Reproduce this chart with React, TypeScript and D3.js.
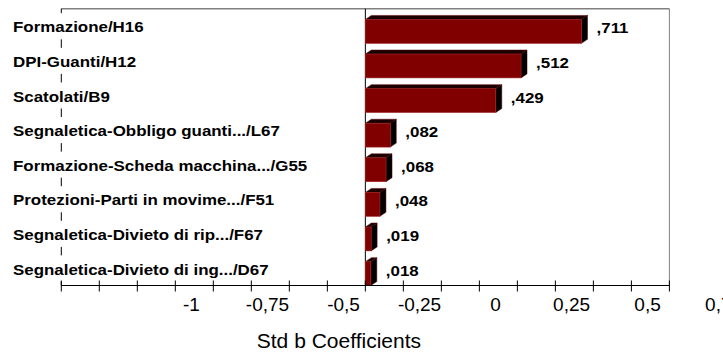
import React from "react";
import * as d3 from "d3";

// Standardized regression coefficients per predictor
const categories = [
  "Formazione/H16",
  "DPI-Guanti/H12",
  "Scatolati/B9",
  "Segnaletica-Obbligo guanti.../L67",
  "Formazione-Scheda macchina.../G55",
  "Protezioni-Parti in movime.../F51",
  "Segnaletica-Divieto di rip.../F67",
  "Segnaletica-Divieto di ing.../D67",
];
const coefficients = [0.711, 0.512, 0.429, 0.082, 0.068, 0.048, 0.019, 0.018];

// Axis tick values (every 0.125) and the printed tick labels
const tickValues = d3.range(-1, 1.0001, 0.125);
const tickLabelValues = [-1, -0.75, -0.5, -0.25, 0, 0.25, 0.5, 0.75];
const tickLabels = ["-1", "-0,75", "-0,5", "-0,25", "0", "0,25", "0,5", "0,75"];
const axisTitle = "Std b Coefficients";

const W = 723;
const H = 356;

const formatValue = (v: number) => d3.format(".3f")(v).replace(/^0\./, ",");

export default function App() {
  const left = 61.3;
  const right = 669.4;
  const top = 8.7;
  const bottom = 285.5;

  const x = d3.scaleLinear().domain([-1, 1]).range([left, right]);
  const y = d3.scaleBand<string>().domain(categories).range([top, bottom]);
  const band = y.bandwidth();
  const barH = band * 0.69;
  const dx = 6;
  const dy = 4;
  // printed tick labels sit offset from their tick marks
  const labelShift = 130.2;
  // bold labels use a widened face
  const stretch = 1.21;

  const boundaries = d3.range(categories.length + 1).map((i) => top + i * band);

  const bold = { fontFamily: "Liberation Sans, Arial, sans-serif", fontWeight: 700 };

  return (
    <svg
      width={W}
      height={H}
      style={{ position: "absolute", left: 0, top: 0, background: "#fff" }}
    >
      <rect width={W} height={H} fill="#fff" />
      {/* frame top and right */}
      <line x1={left} x2={right} y1={top} y2={top} stroke="#808080" strokeWidth={1.5} />
      <line x1={right} x2={right} y1={top} y2={bottom} stroke="#808080" strokeWidth={1} />

      {/* zero reference line */}
      <line x1={x(0)} x2={x(0)} y1={top} y2={bottom} stroke="#000" strokeWidth={1} />

      {/* category axis, visible between labels */}
      {boundaries.map((b, i) => (
        <line
          key={i}
          x1={left}
          x2={left}
          y1={Math.max(top, b - 4)}
          y2={Math.min(bottom, b + 4.5)}
          stroke="#000"
          strokeWidth={1}
        />
      ))}

      {/* bars with 3D faces */}
      {categories.map((c, i) => {
        const v = coefficients[i];
        const x0 = x(0);
        const x1 = x(v);
        const yb = (y(c) as number) + band;
        const yt = yb - barH;
        const topFace = `M${x0},${yt}L${x0 + dx},${yt - dy}L${x1 + dx},${yt - dy}L${x1},${yt}Z`;
        const sideFace = `M${x1},${yt}L${x1 + dx},${yt - dy}L${x1 + dx},${yb - dy}L${x1},${yb}Z`;
        return (
          <g key={c}>
            <path d={topFace} fill="#1a0000" stroke="#5a0000" strokeWidth={0.5} />
            <path d={sideFace} fill="#000" stroke="#5a0000" strokeWidth={0.5} />
            <rect
              x={x0}
              y={yt}
              width={x1 - x0}
              height={barH}
              fill="#800000"
              stroke="#a02424"
              strokeWidth={0.6}
            />
            <text
              transform={`translate(${x1 + dx + 9},${(y(c) as number) + band / 2 + 2.5}) scale(${stretch},1)`}
              dominantBaseline="central"
              fontSize={14}
              style={bold}
              fill="#000"
            >
              {formatValue(v)}
            </text>
          </g>
        );
      })}

      {/* category labels */}
      {categories.map((c) => (
        <text
          key={c}
          transform={`translate(13,${(y(c) as number) + band / 2 + 1.5}) scale(${stretch},1)`}
          dominantBaseline="central"
          fontSize={14}
          style={bold}
          fill="#000"
        >
          {c}
        </text>
      ))}

      {/* value axis */}
      <line x1={left} x2={right} y1={bottom} y2={bottom} stroke="#000" strokeWidth={1} />
      {tickValues.map((t, i) => (
        <line key={i} x1={x(t)} x2={x(t)} y1={bottom - 5} y2={bottom + 6} stroke="#000" strokeWidth={1} />
      ))}
      {tickLabelValues.map((t, i) => (
        <text
          key={i}
          x={x(t) + labelShift}
          y={310.7}
          textAnchor="middle"
          fontSize={19}
          fontFamily="Liberation Sans, Arial, sans-serif"
          fill="#000"
        >
          {tickLabels[i]}
        </text>
      ))}

      <text
        x={338.9}
        y={348.3}
        textAnchor="middle"
        fontSize={21}
        fontFamily="Liberation Sans, Arial, sans-serif"
        fill="#000"
      >
        {axisTitle}
      </text>
    </svg>
  );
}
